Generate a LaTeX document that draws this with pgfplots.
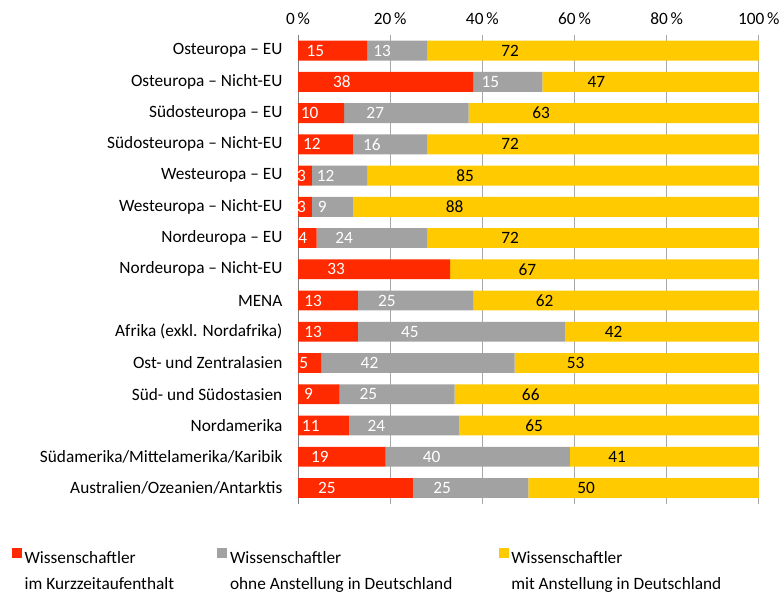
\documentclass[border=0pt]{standalone}
\usepackage{pgfplots}
\usepackage{pgfplotstable}
\pgfplotsset{compat=1.18}
\usepackage{fontspec}
\setmainfont{Carlito}

\definecolor{barred}{HTML}{FF2A00}
\definecolor{bargray}{HTML}{A2A2A2}
\definecolor{baryellow}{HTML}{FFCA00}
\definecolor{gridgray}{HTML}{A8A8A8}

% idx  kurz  ohne  mit
\pgfplotstableread{
idx a  b  c
0   15 13 72
1   38 15 47
2   10 27 63
3   12 16 72
4   3  12 85
5   3  9  88
6   4  24 72
7   33 0  67
8   13 25 62
9   13 45 42
10  5  42 53
11  9  25 66
12  11 24 65
13  19 40 41
14  25 25 50
}\datatable

\begin{document}
\begin{tikzpicture}
\begin{axis}[
    xbar stacked,
    scale only axis,
    width=346.5pt, height=352.5pt,
    bar width=15pt,
    xmin=0, xmax=100, ymin=-0.5, ymax=14.5,
    y dir=reverse,
    clip=false,
    axis y line*=left,
    axis x line*=top,
    x axis line style={draw=none},
    y axis line style={draw=gray},
    font=\fontsize{13}{15}\selectfont,
    xtick={0,20,...,100},
    xticklabels={0\,\%,20\,\%,40\,\%,60\,\%,80\,\%,100\,\%},
    xtick style={draw=none},
    xmajorgrids,
    major grid style={gridgray, line width=0.75pt},
    ytick={0,...,14},
    yticklabels={Osteuropa – EU, Osteuropa – Nicht-EU, Südosteuropa – EU, Südosteuropa – Nicht-EU,
        Westeuropa – EU, Westeuropa – Nicht-EU, Nordeuropa – EU, Nordeuropa – Nicht-EU, MENA,
        Afrika (exkl. Nordafrika), Ost- und Zentralasien, Süd- und Südostasien, Nordamerika,
        Südamerika/Mittelamerika/Karibik, Australien/Ozeanien/Antarktis},
    ytick style={draw=none},
    minor ytick={-0.5,0.5,...,14.5},
    minor tick length=3.75pt,
    minor tick style={draw=gray},
    tick align=outside,
    yticklabel style={xshift=-4pt},
    nodes near coords={\ifdim\rawx pt=0pt\else\pgfmathprintnumber[fixed,precision=0,assume math mode=true]{\rawx}\fi},
    every node near coord/.append style={anchor=center, font=\fontsize{13}{15}\selectfont,
        shift={(axis direction cs:-\rawx/4,0)}},
    legend columns=3,
    legend cell align=left,
    legend style={draw=none, fill=none, inner sep=0pt, outer sep=0pt,
        at={(-0.621,-0.0956)}, anchor=north west,
        nodes={align=left, inner xsep=0pt}, font=\fontsize{13}{19.5}\selectfont,
        /tikz/every odd column/.append style={column sep=2pt},
        /tikz/every even column/.append style={column sep=0pt}},
    legend image code/.code={\fill[#1] (0pt,9.75pt) rectangle (7.5pt,17.25pt);},
]
\addplot[draw=none, fill=barred, nodes near coords style={text=white},
    visualization depends on={\thisrow{a} \as \rawx}] table[x=a, y=idx] {\datatable};
\addlegendentry{\makebox[145pt][l]{Wissenschaftler}\\im Kurzzeitaufenthalt}
\addplot[draw=none, fill=bargray, nodes near coords style={text=white},
    visualization depends on={\thisrow{b} \as \rawx}] table[x=b, y=idx] {\datatable};
\addlegendentry{\makebox[202pt][l]{Wissenschaftler}\\ohne Anstellung in Deutschland}
\addplot[draw=none, fill=baryellow, nodes near coords style={text=black},
    visualization depends on={\thisrow{c} \as \rawx}] table[x=c, y=idx] {\datatable};
\addlegendentry{Wissenschaftler\\mit Anstellung in Deutschland}
\path (axis description cs:-0.647,1.0745) (axis description cs:1.0498,-0.1957);
\end{axis}
\end{tikzpicture}
\end{document}
